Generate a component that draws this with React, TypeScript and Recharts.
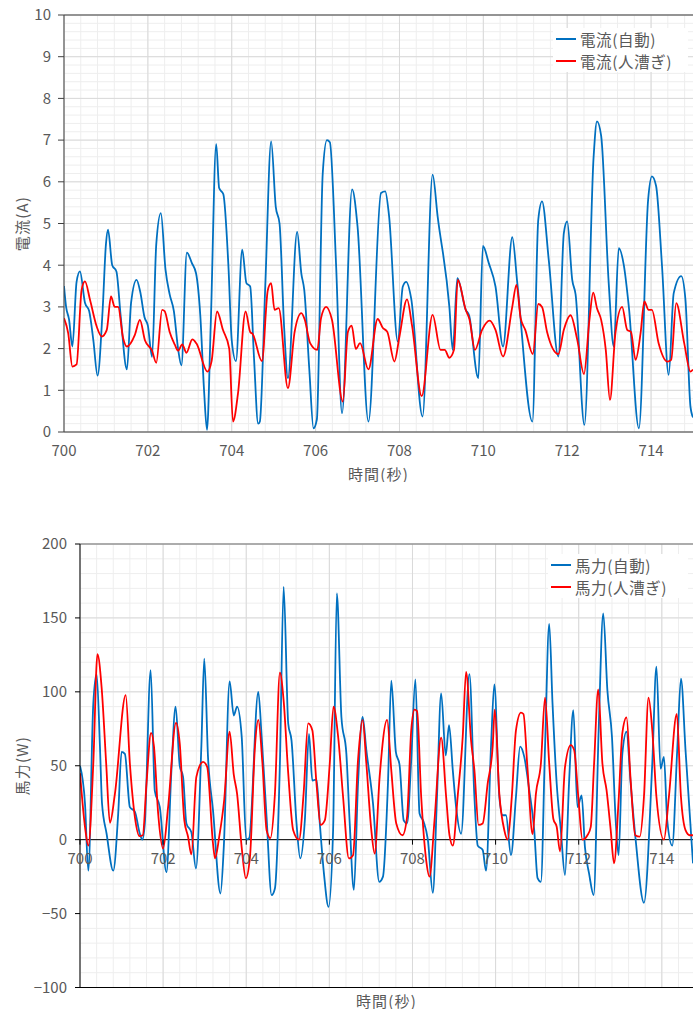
import { LineChart, Line, XAxis, YAxis, CartesianGrid, ReferenceLine, Legend } from "recharts";

const FONT = "'Noto Sans CJK JP', 'Noto Sans', sans-serif";
const BLUE = "#0070C0";
const RED = "#FF0000";
const TEXT = "#595959";
const AXIS = "#404040";

const timeTicks = [700, 702, 704, 706, 708, 710, 712, 714];
const currentTicks = [0, 1, 2, 3, 4, 5, 6, 7, 8, 9, 10];
const powerTicks = [-100, -50, 0, 50, 100, 150, 200];

// [time (s), current (A)]
const currentAuto: [number, number][] = [
  [700.0, 3.5], [700.05, 3.0], [700.12, 2.7], [700.2, 2.05], [700.3, 3.6], [700.38, 3.85], [700.5, 3.1],
  [700.6, 2.9], [700.7, 2.2], [700.8, 1.35], [700.92, 2.9], [701.0, 4.5], [701.05, 4.85], [701.15, 4.0],
  [701.25, 3.85], [701.35, 2.8], [701.5, 1.5], [701.6, 3.1], [701.73, 3.65], [701.82, 3.35], [701.92, 2.75],
  [702.0, 2.55], [702.1, 1.8], [702.2, 4.5], [702.31, 5.25], [702.42, 3.9], [702.52, 3.3], [702.62, 2.9],
  [702.72, 2.0], [702.8, 1.6], [702.93, 4.3], [703.05, 4.05], [703.15, 3.8], [703.25, 2.8], [703.34, 1.0],
  [703.41, 0.05], [703.5, 2.6], [703.63, 6.9], [703.7, 5.85], [703.8, 5.7], [703.92, 4.0], [704.0, 2.2],
  [704.1, 1.7], [704.25, 4.37], [704.35, 3.57], [704.44, 3.49], [704.53, 1.8], [704.63, 0.2], [704.67, 0.25],
  [704.8, 3.5], [704.94, 6.97], [705.05, 5.4], [705.14, 5.0], [705.25, 2.5], [705.34, 1.29], [705.56, 4.8],
  [705.66, 3.8], [705.73, 3.4], [705.85, 1.5], [705.95, 0.09], [706.03, 0.3], [706.17, 6.2], [706.27, 7.0],
  [706.34, 6.95], [706.49, 3.97], [706.63, 0.45], [706.87, 5.82], [707.0, 4.93], [707.26, 0.25], [707.56, 5.73],
  [707.66, 5.77], [707.75, 5.2], [707.96, 2.17], [708.08, 3.49], [708.16, 3.6], [708.28, 3.2], [708.55, 0.37],
  [708.79, 6.17], [708.91, 5.17], [709.19, 3.0], [709.27, 1.97], [709.38, 3.69], [709.58, 2.93], [709.66, 2.8],
  [709.88, 1.29], [709.99, 4.46], [710.13, 4.05], [710.29, 3.49], [710.47, 2.05], [710.69, 4.67], [710.81, 3.57],
  [711.17, 0.25], [711.31, 5.09], [711.4, 5.53], [711.56, 4.13], [711.79, 1.81], [711.92, 4.77], [712.0, 5.05],
  [712.12, 3.65], [712.2, 3.3], [712.41, 0.17], [712.63, 6.6], [712.71, 7.45], [712.81, 7.1], [712.99, 3.57],
  [713.11, 2.05], [713.23, 4.41], [713.35, 4.0], [713.47, 3.0], [713.71, 0.09], [713.93, 5.57], [714.02, 6.13],
  [714.12, 5.9], [714.26, 4.0], [714.42, 1.37], [714.54, 3.33], [714.72, 3.74], [714.82, 3.17], [714.94, 0.6],
  [715.0, 0.35],
];

const currentManual: [number, number][] = [
  [700.0, 2.73], [700.1, 2.37], [700.2, 1.57], [700.3, 1.62], [700.42, 3.41], [700.5, 3.61], [700.62, 3.17],
  [700.78, 2.53], [700.9, 2.29], [701.02, 2.45], [701.12, 3.25], [701.21, 3.0], [701.29, 3.0], [701.41, 2.25],
  [701.5, 2.05], [701.69, 2.33], [701.81, 2.69], [701.93, 2.2], [702.1, 1.95], [702.2, 1.66], [702.34, 2.93],
  [702.4, 2.9], [702.52, 2.4], [702.64, 2.1], [702.72, 1.95], [702.82, 2.1], [702.92, 1.9], [703.06, 2.22],
  [703.16, 2.12], [703.42, 1.45], [703.52, 1.7], [703.65, 2.89], [703.79, 2.45], [703.94, 2.0], [704.03, 0.25],
  [704.15, 0.93], [704.33, 2.89], [704.44, 2.4], [704.5, 2.35], [704.72, 1.7], [704.86, 3.4], [704.94, 3.57],
  [705.02, 2.93], [705.12, 2.97], [705.34, 1.05], [705.5, 2.4], [705.66, 2.85], [705.74, 2.7], [705.87, 2.13],
  [706.04, 1.97], [706.13, 2.73], [706.25, 3.0], [706.39, 2.69], [706.65, 0.73], [706.77, 2.4], [706.86, 2.55],
  [706.96, 1.99], [707.06, 2.13], [707.26, 1.5], [707.48, 2.71], [707.6, 2.5], [707.71, 2.4], [707.88, 1.69],
  [708.0, 2.29], [708.18, 3.18], [708.3, 2.55], [708.53, 0.86], [708.79, 2.81], [708.98, 1.97], [709.08, 1.97],
  [709.19, 1.78], [709.3, 1.97], [709.39, 3.65], [709.58, 2.93], [709.67, 2.7], [709.8, 1.97], [709.97, 2.45],
  [710.15, 2.67], [710.29, 2.45], [710.47, 1.81], [710.69, 3.0], [710.79, 3.53], [710.89, 2.73], [711.0, 2.45],
  [711.18, 1.87], [711.31, 3.07], [711.4, 3.0], [711.52, 2.4], [711.79, 1.87], [711.92, 2.45], [712.08, 2.8],
  [712.24, 2.21], [712.4, 1.39], [712.53, 2.69], [712.62, 3.34], [712.71, 2.97], [712.81, 2.69], [712.92, 1.97],
  [713.02, 0.77], [713.15, 2.37], [713.31, 3.0], [713.43, 2.45], [713.52, 2.4], [713.63, 1.73], [713.75, 2.37],
  [713.84, 3.13], [713.94, 2.93], [714.02, 2.93], [714.18, 2.13], [714.39, 1.69], [714.48, 1.73], [714.6, 3.09],
  [714.79, 2.13], [714.94, 1.45], [715.0, 1.5],
];

// [time (s), power (W)]
const powerAuto: [number, number][] = [
  [700.0, 50], [700.12, 24.5], [700.2, -21], [700.32, 92], [700.4, 112], [700.48, 63], [700.53, 24.5],
  [700.64, 4], [700.8, -21], [700.92, 18], [701.0, 59.4], [701.08, 58], [701.2, 22], [701.32, 19], [701.44, 4],
  [701.5, 0], [701.56, 11], [701.7, 114.7], [701.8, 33], [701.92, 22], [702.08, -22], [702.2, 47], [702.3, 90],
  [702.4, 50], [702.48, 42.5], [702.56, 11], [702.68, 5], [702.79, -19.5], [702.92, 63], [702.99, 122.5],
  [703.08, 56], [703.2, 20], [703.38, -36.4], [703.46, -5], [703.6, 107], [703.7, 84], [703.78, 90],
  [703.89, 70], [704.0, 0], [704.07, 1], [704.29, 100], [704.37, 70], [704.49, 15], [704.61, -37.5],
  [704.69, -33], [704.81, 51.5], [704.9, 171], [705.01, 78.6], [705.09, 67], [705.21, 11], [705.3, -12.7],
  [705.41, 13], [705.51, 71.5], [705.59, 40], [705.69, 40.7], [705.77, 11], [705.87, -23], [705.98, -45.4],
  [706.09, 6.4], [706.18, 166.5], [706.29, 83], [706.41, 58], [706.49, 11], [706.59, -34], [706.69, 38],
  [706.8, 83], [706.89, 60.6], [707.05, 24.5], [707.2, -28.5], [707.29, -25], [707.41, 38], [707.49, 107.5],
  [707.6, 59.4], [707.69, 50.4], [707.79, 13], [707.87, 11], [707.97, 54], [708.07, 108.4], [708.17, 17.7],
  [708.27, 12], [708.37, 0], [708.49, -36], [708.59, 29], [708.69, 99], [708.8, 57], [708.88, 77.5],
  [708.97, 47], [709.05, 22], [709.17, 4], [709.37, 112], [709.49, 29], [709.57, -4], [709.69, -7],
  [709.77, -21], [709.89, 63], [709.97, 105], [710.09, 29], [710.17, 16.5], [710.25, 16.5], [710.37, -10.5],
  [710.49, 29], [710.59, 63], [710.69, 56], [710.81, 33.5], [710.93, 6.4], [711.01, -26], [711.09, -28.5],
  [711.19, 63], [711.29, 146], [711.37, 92], [711.47, 38], [711.57, 6.4], [711.67, -24], [711.77, 40],
  [711.87, 87.6], [711.97, 22], [712.07, 30], [712.15, -5], [712.25, -23], [712.36, -37.5], [712.48, 74],
  [712.59, 153], [712.69, 101], [712.8, 69.6], [712.89, 13], [712.96, -10.5], [713.05, 58], [713.15, 73],
  [713.25, 38], [713.37, 0], [713.57, -42.7], [713.77, 51.5], [713.87, 117], [713.97, 48], [714.05, 56],
  [714.13, 13], [714.25, -4], [714.37, 60.6], [714.46, 109], [714.57, 60.6], [714.67, 18], [714.75, -16],
];

const powerManual: [number, number][] = [
  [700.0, 45], [700.12, 8.7], [700.2, -4], [700.32, 51.5], [700.42, 125.5], [700.52, 103], [700.63, 51.5],
  [700.72, 11.4], [700.84, 31], [701.1, 97.8], [701.2, 51.5], [701.32, 15.4], [701.43, 2.4], [701.51, 3],
  [701.6, 38], [701.71, 72.3], [701.78, 63], [701.88, 18], [702.0, -6], [702.12, 22], [702.31, 79],
  [702.4, 65], [702.51, 13], [702.6, 2], [702.68, -10], [702.8, 42.5], [702.96, 52.6], [703.06, 49.3],
  [703.2, -2.6], [703.25, -12.7], [703.35, 2], [703.47, 27], [703.6, 73], [703.7, 44], [703.78, 31],
  [703.89, -5], [703.99, -26], [704.09, -11.6], [704.21, 63], [704.29, 81], [704.39, 51.5], [704.49, 6.4],
  [704.58, 1], [704.69, 31], [704.81, 113], [704.9, 94], [705.01, 45], [705.13, 6.4], [705.27, 0],
  [705.38, 31], [705.49, 78.6], [705.59, 74], [705.69, 38], [705.79, 10], [705.89, 13], [706.01, 51.5],
  [706.1, 90], [706.21, 70], [706.33, 29], [706.47, -12.7], [706.57, -10.5], [706.69, 54], [706.8, 81],
  [706.89, 51.5], [707.01, 6.4], [707.09, -9.4], [707.21, 42.5], [707.39, 81], [707.49, 47], [707.61, 11],
  [707.76, 3], [707.87, 15.4], [707.97, 74], [708.05, 88], [708.11, 87], [708.21, 29], [708.33, -14],
  [708.41, -25], [708.53, 13], [708.69, 69], [708.81, 29], [708.89, 3], [708.97, -4], [709.09, 30],
  [709.21, 70], [709.29, 113.5], [709.41, 67], [709.49, 47], [709.59, 10], [709.69, 11], [709.81, 38],
  [709.93, 63], [709.98, 88], [710.09, 31], [710.21, 6.4], [710.29, 0], [710.39, 29], [710.49, 74],
  [710.61, 86], [710.67, 85], [710.77, 47], [710.89, 3.7], [710.97, 31], [711.09, 51.5], [711.19, 96],
  [711.29, 51.5], [711.39, 14], [711.47, 8.7], [711.55, -8], [711.67, 49], [711.81, 64], [711.89, 60.6],
  [711.99, 29], [712.09, 0], [712.21, 3], [712.29, 8.7], [712.37, 51.5], [712.47, 101.6], [712.57, 51.5],
  [712.67, 33.5], [712.77, 6.4], [712.85, -16], [712.96, 26.5], [713.05, 72], [713.15, 82.7], [713.25, 40],
  [713.36, 3], [713.47, 2], [713.57, 29], [713.68, 96], [713.77, 74], [713.87, 29], [714.05, 0],
  [714.17, 29], [714.36, 85], [714.46, 29], [714.57, 6.4], [714.67, 3], [714.75, 3],
];

const toRows = (pts: [number, number][]) => pts.map(([t, v]) => ({ t, v }));

// grid positions
const steps = (from: number, to: number, step: number) => {
  const out: number[] = [];
  for (let i = 0; from + i * step <= to + 1e-9; i++) out.push(+(from + i * step).toFixed(3));
  return out;
};
const minorTime = steps(700, 715, 0.4);
const minorCurrent = steps(0, 10, 0.2);
const minorPower = steps(-100, 200, 10);

const MINOR = "#eeeeee";
const MAJOR = "#d9d9d9";

function LegendBox({ items }: { items: { label: string; color: string }[] }) {
  return (
    <div style={{ background: "#fff", padding: "0 8px 0 3px", fontFamily: FONT, fontSize: 15.5, color: TEXT, lineHeight: "22px" }}>
      {items.map((it) => (
        <div key={it.label} style={{ display: "flex", alignItems: "center", whiteSpace: "nowrap", letterSpacing: 0.6 }}>
          <span style={{ display: "inline-block", width: 20, height: 2, background: it.color, marginRight: 4 }} />
          {it.label}
        </div>
      ))}
    </div>
  );
}

const tickStyle = { fill: TEXT, fontSize: 15, fontFamily: FONT };

// power chart layout (svg coords)
const P_TOP = 24;
const P_PLOT_H = 443.5;
const P_ZERO_Y = P_TOP + P_PLOT_H * (200 / 300);

function PowerTimeTick(props: any) {
  const { x, payload } = props;
  return (
    <g>
      <line x1={x} x2={x} y1={P_ZERO_Y} y2={P_ZERO_Y + 5} stroke="#000" />
      <text x={x} y={P_ZERO_Y + 18} textAnchor="middle" dominantBaseline="central" {...tickStyle}>
        {payload.value}
      </text>
    </g>
  );
}

function AxisTitleY({ viewBox, text }: any) {
  const cy = viewBox.y + viewBox.height / 2;
  return (
    <text x={21} y={cy} transform={`rotate(-90, 21, ${cy})`} textAnchor="middle" dominantBaseline="central"
      fill={TEXT} fontSize={15} fontFamily={FONT} letterSpacing={1.2}>
      {text}
    </text>
  );
}

function AxisTitleX({ viewBox, text, y }: any) {
  return (
    <text x={viewBox.x + viewBox.width / 2} y={y} textAnchor="middle" dominantBaseline="central"
      fill={TEXT} fontSize={15} fontFamily={FONT} letterSpacing={1.2}>
      {text}
    </text>
  );
}

export default function App() {
  return (
    <div style={{ position: "absolute", left: 0, top: 0, width: 693, height: 1009, background: "#fff", overflow: "hidden" }}>
      <div style={{ position: "absolute", left: 0, top: 0 }}>
        <LineChart width={693} height={482} margin={{ top: 15, right: 0, bottom: 0, left: 0 }}>
          <CartesianGrid stroke={MINOR} horizontalValues={minorCurrent} verticalValues={minorTime} />
          <CartesianGrid stroke={MAJOR} horizontalValues={currentTicks} verticalValues={timeTicks} />
          <XAxis
            type="number"
            dataKey="t"
            domain={[700, 715]}
            ticks={timeTicks}
            interval={0}
            allowDataOverflow
            height={50}
            stroke={AXIS}
            tickLine={false}
            tickSize={6}
            tickMargin={7}
            tick={tickStyle}
            label={(p: any) => <AxisTitleX {...p} text="時間(秒)" y={473} />}
          />
          <YAxis
            type="number"
            domain={[0, 10]}
            ticks={currentTicks}
            interval={0}
            width={64}
            stroke={AXIS}
            tickSize={6}
            tickMargin={7}
            tick={tickStyle}
            label={(p: any) => <AxisTitleY {...p} text="電流(A)" />}
          />
          <ReferenceLine y={10} stroke={AXIS} />
          <Line data={toRows(currentAuto)} dataKey="v" name="電流(自動)" type="monotone" stroke={BLUE}
            strokeWidth={1.8} dot={false} isAnimationActive={false} />
          <Line data={toRows(currentManual)} dataKey="v" name="電流(人漕ぎ)" type="monotone" stroke={RED}
            strokeWidth={1.8} dot={false} isAnimationActive={false} />
          <Legend
            layout="vertical"
            align="center"
            verticalAlign="middle"
            wrapperStyle={{ top: 28, left: 553, width: 135, height: 44 }}
            content={() => (
              <LegendBox items={[{ label: "電流(自動)", color: BLUE }, { label: "電流(人漕ぎ)", color: RED }]} />
            )}
          />
        </LineChart>
      </div>

      <div style={{ position: "absolute", left: 0, top: 520 }}>
        <LineChart width={693} height={489} margin={{ top: P_TOP, right: 0, bottom: 0, left: 0 }}>
          <CartesianGrid stroke={MINOR} horizontalValues={minorPower} verticalValues={minorTime} />
          <CartesianGrid stroke={MAJOR} horizontalValues={powerTicks} verticalValues={timeTicks} />
          <XAxis
            type="number"
            dataKey="t"
            domain={[700, 714.75]}
            ticks={timeTicks}
            interval={0}
            allowDataOverflow
            height={21.5}
            stroke="#000"
            tickLine={false}
            tick={<PowerTimeTick />}
            label={(p: any) => <AxisTitleX {...p} text="時間(秒)" y={480} />}
          />
          <YAxis
            type="number"
            domain={[-100, 200]}
            ticks={powerTicks}
            interval={0}
            width={80}
            stroke="#000"
            tickSize={5}
            tickMargin={8}
            tick={tickStyle}
            tickFormatter={(v: number) => String(v).replace("-", "−")}
            label={(p: any) => <AxisTitleY {...p} text="馬力(W)" />}
          />
          <ReferenceLine y={200} stroke="#707070" />
          <ReferenceLine y={0} stroke="#000" />
          <Line data={toRows(powerAuto)} dataKey="v" name="馬力(自動)" type="monotone" stroke={BLUE}
            strokeWidth={1.8} dot={false} isAnimationActive={false} />
          <Line data={toRows(powerManual)} dataKey="v" name="馬力(人漕ぎ)" type="monotone" stroke={RED}
            strokeWidth={1.8} dot={false} isAnimationActive={false} />
          <Legend
            layout="vertical"
            align="center"
            verticalAlign="middle"
            wrapperStyle={{ top: 34, left: 548, width: 140, height: 44 }}
            content={() => (
              <LegendBox items={[{ label: "馬力(自動)", color: BLUE }, { label: "馬力(人漕ぎ)", color: RED }]} />
            )}
          />
        </LineChart>
      </div>
    </div>
  );
}
